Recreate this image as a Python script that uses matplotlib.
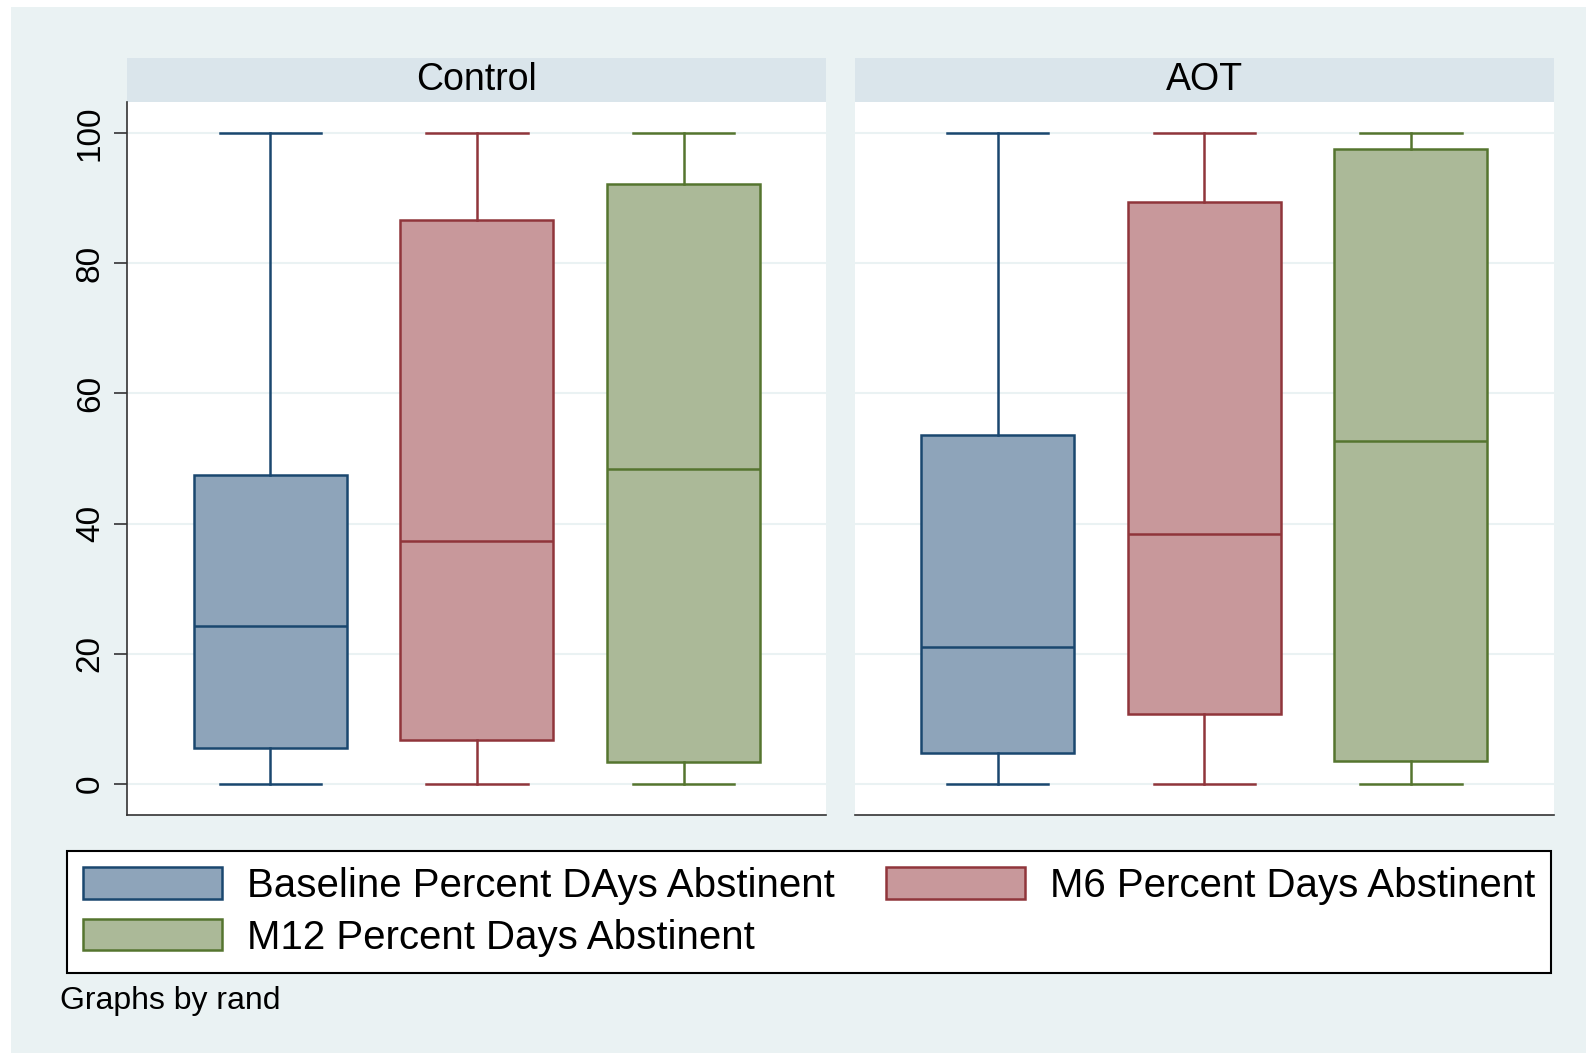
import matplotlib
matplotlib.use("Agg")
import matplotlib.pyplot as plt
from matplotlib.patches import Rectangle, Patch

plt.rcParams['font.family'] = ['Liberation Sans', 'DejaVu Sans']

groups = ["Control", "AOT"]
series = ["Baseline Percent DAys Abstinent", "M6 Percent Days Abstinent",
          "M12 Percent Days Abstinent"]
q1 = [[5.6, 6.8, 3.4], [4.8, 10.7, 3.6]]
med = [[24.2, 37.3, 48.3], [21.1, 38.4, 52.6]]
q3 = [[47.5, 86.6, 92.1], [53.6, 89.3, 97.5]]
whislo = [[0, 0, 0], [0, 0, 0]]
whishi = [[100, 100, 100], [100, 100, 100]]
yticks = [0, 20, 40, 60, 80, 100]

edge_colors = ["#1A476F", "#90353B", "#55752F"]
face_colors = ["#8EA4BA", "#C8989B", "#ABB998"]
bg = "#EAF2F3"
strip = "#DAE5EB"

W, H = 1586, 1053
fig = plt.figure(figsize=(W / 100, H / 100), dpi=100)
fig.patch.set_facecolor("white")
fig.patches.append(Rectangle((11 / W, 0), 1 - 11 / W, 1 - 7 / H,
                             transform=fig.transFigure, facecolor=bg,
                             edgecolor="none", zorder=-10))

bottom = 1 - 815.3 / H
top = 1 - 102.2 / H
ph = top - bottom
lefts = [127.4 / W, 854.7 / W]
pw = 699 / W
strip_h = 44 / 713

lw = 1.8
for gi, g in enumerate(groups):
    ax = fig.add_axes([lefts[gi], bottom, pw, ph])
    ax.set_facecolor("white")
    stats = []
    for si in range(3):
        stats.append(dict(med=med[gi][si], q1=q1[gi][si], q3=q3[gi][si],
                          whislo=whislo[gi][si], whishi=whishi[gi][si],
                          fliers=[], label=series[si]))
    bp = ax.bxp(stats, positions=[1, 2, 3], widths=0.74, patch_artist=True,
                showfliers=False, capwidths=0.49)
    for si in range(3):
        ec = edge_colors[si]
        bp['boxes'][si].set(facecolor=face_colors[si], edgecolor=ec, linewidth=lw)
        bp['medians'][si].set(color=ec, linewidth=lw)
        for k in (2 * si, 2 * si + 1):
            bp['whiskers'][k].set(color=ec, linewidth=lw)
            bp['caps'][k].set(color=ec, linewidth=lw)
    ax.set_xlim(0.309, 3.691)
    ax.set_ylim(-4.8, 104.7)
    ax.set_yticks(yticks)
    ax.yaxis.grid(True, color=bg, linewidth=1.5)
    ax.set_axisbelow(True)
    ax.set_xticks([])
    for s in ("top", "right"):
        ax.spines[s].set_visible(False)
    ax.spines["bottom"].set(color="#333333", linewidth=1.2)
    if gi == 0:
        ax.spines["left"].set(color="#333333", linewidth=1.2)
        ax.tick_params(axis="y", length=9.5, width=1.2, color="#333333",
                       pad=6, labelsize=24, labelrotation=90)
        for t in ax.get_yticklabels():
            t.set_va("center")
    else:
        ax.spines["left"].set_visible(False)
        ax.tick_params(axis="y", length=0, labelleft=False)
    ax.add_patch(Rectangle((0, 1), 1, strip_h, transform=ax.transAxes,
                           facecolor=strip, edgecolor="none", clip_on=False))
    ax.text(0.5, 1 + strip_h / 2, g, transform=ax.transAxes, ha="center",
            va="center", fontsize=27)

handles = [Patch(facecolor=face_colors[i], edgecolor=edge_colors[i],
                 linewidth=1.8, label=series[i]) for i in (0, 2, 1)]
leg = fig.legend(handles=handles, ncol=2, loc="upper left",
                 bbox_to_anchor=(67 / W, 1 - 851 / H), fontsize=29,
                 frameon=True, fancybox=False, edgecolor="black",
                 facecolor="white", framealpha=1,
                 handlelength=3.45, handleheight=0.82, handletextpad=0.62,
                 columnspacing=1.27, labelspacing=0.34, borderpad=0.4,
                 borderaxespad=0)
leg.get_frame().set_linewidth(1.5)

fig.text(60 / W, 1 - 1001 / H, "Graphs by rand", fontsize=23, va="center",
         ha="left")

fig.savefig("out.png", dpi=100)
